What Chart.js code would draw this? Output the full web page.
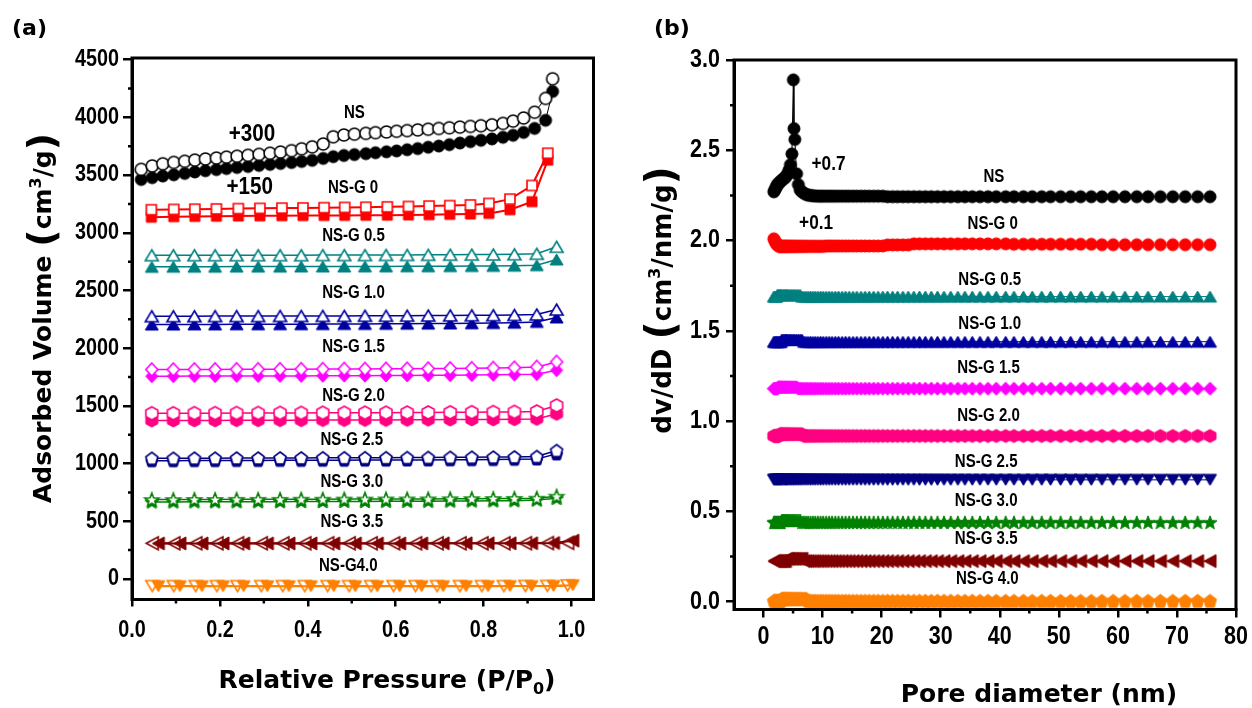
<!DOCTYPE html>
<html>
<head>
<meta charset="utf-8">
<script src="https://cdn.jsdelivr.net/npm/chart.js@4.4.1/dist/chart.umd.min.js"></script>
<style>
  html, body { margin: 0; padding: 0; background: #fff; }
  body { width: 1252px; height: 708px; position: relative; overflow: hidden; }
  .panel { position: absolute; top: 0; width: 626px; height: 708px; }
  #panelA { left: 0; }
  #panelB { left: 626px; }
</style>
</head>
<body>
<div class="panel" id="panelA"><canvas id="chartA" width="626" height="708"></canvas></div>
<div class="panel" id="panelB"><canvas id="chartB" width="626" height="708"></canvas></div>
<script>
// ---------- (a) N2 isotherms: relative pressure points ----------
const pressureNS = [0.021,0.046,0.070,0.095,0.120,0.143,0.167,0.192,0.215,0.239,0.264,0.289,0.314,0.338,0.363,0.386,0.410,0.435,0.458,0.482,0.506,0.532,0.554,0.579,0.602,0.626,0.650,0.674,0.698,0.722,0.746,0.770,0.794,0.819,0.844,0.867,0.891,0.916,0.941,0.957];
const pressureG0 = [0.044,0.095,0.143,0.192,0.242,0.291,0.341,0.389,0.437,0.484,0.532,0.581,0.629,0.676,0.723,0.770,0.812,0.860,0.910,0.946];
const pressureG = [0.045,0.094,0.142,0.189,0.238,0.287,0.337,0.385,0.434,0.483,0.530,0.578,0.626,0.674,0.724,0.773,0.822,0.870,0.921,0.966];
const pressureLowDes = [0.046,0.095,0.145,0.193,0.240,0.294,0.343,0.393,0.445,0.494,0.544,0.595,0.645,0.694,0.746,0.796,0.846,0.895,0.945,0.991];
const pressureLowAds = [0.060,0.109,0.159,0.207,0.254,0.308,0.357,0.407,0.459,0.508,0.558,0.609,0.659,0.708,0.760,0.810,0.860,0.909,0.959,1.003];

// adsorbed volume (cm3/g), already offset as labelled
const nsAds = [3462,3478,3492,3503,3515,3527,3538,3548,3557,3566,3575,3584,3593,3601,3609,3618,3628,3645,3660,3670,3678,3686,3694,3702,3710,3720,3730,3742,3752,3764,3778,3790,3802,3814,3828,3845,3870,3905,3975,4225];
const nsDes = [3550,3580,3598,3610,3620,3630,3640,3648,3656,3664,3672,3680,3690,3700,3712,3728,3745,3770,3832,3848,3855,3862,3868,3874,3880,3886,3892,3898,3904,3910,3916,3922,3928,3936,3948,3968,3995,4045,4165,4335];
const g0Ads = [3135,3140,3142,3144,3146,3147,3148,3149,3150,3151,3152,3153,3155,3157,3160,3163,3168,3200,3270,3630];
const g0Des = [3200,3203,3205,3207,3210,3212,3214,3216,3218,3220,3222,3225,3228,3232,3236,3242,3255,3292,3410,3690];
const g05Des = [2806,2806,2806,2806,2806,2806,2806,2806,2807,2807,2807,2808,2808,2809,2810,2811,2812,2814,2818,2879];
const g05Ads = [2705,2706,2706,2706,2707,2707,2707,2708,2708,2708,2709,2709,2710,2710,2711,2712,2713,2715,2719,2769];
const g10Des = [2277,2277,2277,2278,2278,2278,2279,2279,2280,2280,2281,2281,2282,2283,2284,2285,2286,2288,2292,2335];
const g10Ads = [2205,2205,2206,2206,2207,2207,2208,2208,2209,2210,2210,2211,2212,2213,2214,2216,2218,2221,2228,2266];
const g15Des = [1815,1815,1816,1816,1817,1817,1818,1818,1819,1820,1820,1821,1822,1823,1824,1826,1828,1831,1838,1881];
const g15Ads = [1757,1757,1758,1758,1759,1759,1760,1760,1761,1762,1762,1763,1764,1765,1766,1767,1769,1771,1775,1809];
const g20Des = [1436,1436,1437,1437,1438,1438,1439,1439,1440,1440,1441,1441,1442,1443,1444,1445,1446,1448,1451,1503];
const g20Ads = [1373,1373,1374,1374,1375,1375,1376,1376,1377,1377,1378,1378,1379,1380,1381,1382,1383,1384,1387,1431];
const g25Des = [1046,1046,1047,1047,1048,1048,1049,1049,1050,1050,1051,1051,1052,1053,1054,1055,1056,1058,1061,1113];
const g25Ads = [1025,1025,1026,1026,1027,1027,1028,1028,1029,1029,1030,1030,1031,1032,1033,1034,1035,1037,1040,1084];
const g30Des = [688,688,689,689,690,690,690,691,691,692,692,693,693,694,695,696,697,698,700,717];
const g30Ads = [668,668,669,669,670,670,670,671,671,672,672,673,673,674,675,676,677,678,685,699];
const g35Des = [309,309,309,309,309,309,309,309,309,309,309,309,309,309,309,309,309,310,311,313];
const g35Ads = [308,308,308,308,308,308,308,308,308,308,308,308,308,309,309,309,309,310,312,332];
const g40Des = [-62,-62,-62,-62,-62,-62,-62,-62,-62,-62,-62,-62,-62,-62,-62,-62,-62,-61,-60,-56];
const g40Ads = [-63,-63,-63,-63,-63,-63,-63,-63,-63,-63,-63,-63,-63,-63,-63,-63,-62,-62,-61,-54];

const ticksAX = [0, 0.2, 0.4, 0.6, 0.8, 1.0];
const minorAX = [0.1, 0.3, 0.5, 0.7, 0.9];
const ticksAY = [0, 500, 1000, 1500, 2000, 2500, 3000, 3500, 4000, 4500];
const minorAY = [250, 750, 1250, 1750, 2250, 2750, 3250, 3750, 4250];

const labelTextA = ['+300', 'NS', '+150', 'NS-G 0', 'NS-G 0.5', 'NS-G 1.0', 'NS-G 1.5', 'NS-G 2.0', 'NS-G 2.5', 'NS-G 3.0', 'NS-G 3.5', 'NS-G4.0'];
const labelXA = [0.273, 0.506, 0.268, 0.503, 0.504, 0.504, 0.504, 0.504, 0.500, 0.500, 0.500, 0.492];
const labelYA = [3855, 4038, 3390, 3384, 2967, 2481, 2005, 1580, 1199, 843, 488, 115];
const labelBigA = [true, false, true, false, false, false, false, false, false, false, false, false];

// ---------- (b) pore size distributions ----------
const diameter = [1.75,1.9,2.05,2.2,2.35,2.5,2.65,2.8,2.95,3.1,3.3,3.5,3.7,3.9,4.1,4.3,4.55,4.8,5.05,5.3,5.6,5.9,6.2,6.5,6.85,7.2,7.55,7.95,8.35,8.75,9.2,9.65,10.1,10.6,11.1,11.6,12.15,12.7,13.3,13.9,14.5,15.15,15.8,16.5,17.2,17.9,18.65,19.4,20.2,21.0,21.85,22.7,23.6,24.5,25.45,26.4,27.4,28.4,29.45,30.55,31.7,32.9,34.1,35.35,36.65,38.0,39.4,41.0,42.4,44.0,45.5,47.1,48.6,50.3,52.0,53.7,55.5,57.3,59.2,61.2,63.2,65.1,67.2,69.3,71.4,73.5,75.6];
const diameterNS = [1.75,1.9,2.05,2.2,2.35,2.5,2.65,2.8,2.95,3.1,3.3,3.5,3.7,3.9,4.1,4.3,4.55,4.8,5.05,5.15,5.3,5.6,5.9,6.2,6.5,6.85,7.2,7.55,7.95,8.35,8.75,9.2,9.65,10.1,10.6,11.1,11.6,12.15,12.7,13.3,13.9,14.5,15.15,15.8,16.5,17.2,17.9,18.65,19.4,20.2,21.0,21.85,22.7,23.6,24.5,25.45,26.4,27.4,28.4,29.45,30.55,31.7,32.9,34.1,35.35,36.65,38.0,39.4,41.0,42.4,44.0,45.5,47.1,48.6,50.3,52.0,53.7,55.5,57.3,59.2,61.2,63.2,65.1,67.2,69.3,71.4,73.5,75.6];

const psdNS = [2.27,2.28,2.29,2.30,2.31,2.315,2.32,2.325,2.33,2.335,2.34,2.345,2.35,2.36,2.37,2.39,2.42,2.48,2.89,2.62,2.56,2.37,2.31,2.28,2.27,2.262,2.256,2.252,2.25,2.248,2.247,
  2.246,2.246,2.246,2.246,2.246,2.246,2.246,2.246,2.246,2.246,2.246,2.246,2.246,2.246,2.246,2.246,2.246,2.246,2.246,
  2.243,2.243,2.243,2.243,2.243,2.243,2.243,2.243,2.243,2.243,2.243,2.243,2.243,2.243,2.243,2.243,2.243,2.243,2.243,
  2.243,2.243,2.243,2.243,2.243,2.243,2.243,2.243,2.243,2.243,2.243,2.243,2.243,2.243,2.243,2.243,2.243,2.243,2.243];
const psdG0 = [2.010,2.000,1.990,1.982,1.976,1.972,
  1.968,1.968,1.968,1.968,1.968,1.968,1.968,1.968,1.968,1.968,1.968,1.968,1.968,1.968,1.968,1.968,1.968,1.968,1.968,1.968,1.968,1.968,1.968,1.968,1.968,1.968,1.968,
  1.970,1.970,1.970,1.970,1.970,1.970,1.970,1.970,1.970,1.970,1.970,1.970,1.970,1.970,1.970,1.970,
  1.976,1.976,1.976,1.976,1.976,
  1.982,1.982,1.982,1.982,1.982,1.982,1.982,1.982,1.982,1.982,1.982,1.982,1.982,1.982,
  1.980,1.980,1.980,1.980,1.980,1.980,1.980,1.980,1.980,
  1.977,1.977,1.977,1.977,1.977,1.977,1.977,1.977,1.977,1.977];
const psdG05 = [1.690,1.690,1.690,1.690,
  1.700,1.700,1.700,1.700,1.700,1.700,1.700,1.700,1.700,1.700,1.700,1.700,1.700,1.700,1.700,1.700,1.700,1.700,1.700,
  1.690,1.690,1.690,1.690,1.690,1.690,1.690,1.690,1.690,1.690,1.690,1.690,1.690,1.690,1.690,1.690,1.690,1.690,1.690,1.690,1.690,1.690,
  1.690,1.690,1.690,1.690,1.690,1.690,1.690,1.690,1.690,1.690,1.690,1.690,1.690,1.690,1.690,1.690,1.690,1.690,1.690,1.690,1.690,1.690,
  1.690,1.690,1.690,1.690,1.690,1.690,1.690,1.690,1.690,1.690,1.690,1.690,1.690,1.690,1.690,1.690,1.690,1.690,1.690,1.690];
const psdG10 = [1.440,1.440,1.440,1.440,1.440,1.440,1.440,1.440,1.440,
  1.452,1.452,1.452,1.452,1.452,1.452,1.452,1.452,1.452,1.452,1.452,1.452,1.452,1.452,1.452,
  1.440,1.440,1.440,1.440,1.440,1.440,1.440,1.440,1.440,1.440,1.440,1.440,1.440,1.440,1.440,1.440,1.440,1.440,1.440,1.440,1.440,
  1.440,1.440,1.440,1.440,1.440,1.440,1.440,1.440,1.440,1.440,1.440,1.440,1.440,1.440,1.440,1.440,1.440,1.440,1.440,1.440,1.440,
  1.440,1.440,1.440,1.440,1.440,1.440,1.440,1.440,1.440,1.440,1.440,1.440,1.440,1.440,1.440,1.440,1.440,1.440,1.440,1.440,1.440];
const psdG15 = [1.180,1.180,1.180,1.180,1.180,
  1.188,1.188,1.188,1.188,1.188,1.188,1.188,1.188,1.188,1.188,1.188,1.188,1.188,1.188,1.188,1.188,
  1.180,1.180,1.180,1.180,1.180,1.180,1.180,1.180,1.180,1.180,1.180,1.180,1.180,1.180,1.180,1.180,1.180,1.180,1.180,1.180,1.180,1.180,
  1.180,1.180,1.180,1.180,1.180,1.180,1.180,1.180,1.180,1.180,1.180,1.180,1.180,1.180,1.180,1.180,1.180,1.180,1.180,1.180,1.180,1.180,
  1.180,1.180,1.180,1.180,1.180,1.180,1.180,1.180,1.180,1.180,1.180,1.180,1.180,1.180,1.180,1.180,1.180,1.180,1.180,1.180,1.180,1.180];
const psdG20 = [0.918,0.918,0.918,0.918,0.918,0.918,0.918,
  0.928,0.928,0.928,0.928,0.928,0.928,0.928,0.928,0.928,0.928,0.928,0.928,0.928,0.928,0.928,0.928,0.928,
  0.918,0.918,0.918,0.918,0.918,0.918,0.918,0.918,0.918,0.918,0.918,0.918,0.918,0.918,0.918,0.918,0.918,0.918,0.918,0.918,0.918,
  0.918,0.918,0.918,0.918,0.918,0.918,0.918,0.918,0.918,0.918,0.918,0.918,0.918,0.918,0.918,0.918,0.918,0.918,0.918,0.918,0.918,
  0.918,0.918,0.918,0.918,0.918,0.918,0.918,0.918,0.918,0.918,0.918,0.918,0.918,0.918,0.918,0.918,0.918,0.918,0.918,0.918,0.918];
const psdG25 = [0.675,0.675,0.675,0.675,0.675,0.675,0.675,0.675,0.675,0.675,0.675,0.675,0.675,0.675,0.675,0.675,0.675,0.675,0.675,0.675,0.675,0.675,
  0.675,0.675,0.675,0.675,0.675,0.675,0.675,0.675,0.675,0.675,0.675,0.675,0.675,0.675,0.675,0.675,0.675,0.675,0.675,0.675,0.675,0.675,
  0.675,0.675,0.675,0.675,0.675,0.675,0.675,0.675,0.675,0.675,0.675,0.675,0.675,0.675,0.675,0.675,0.675,0.675,0.675,0.675,0.675,0.675,
  0.675,0.675,0.675,0.675,0.675,0.675,0.675,0.675,0.675,0.675,0.675,0.675,0.675,0.675,0.675,0.675,0.675,0.675,0.675,0.675,0.675];
const psdG30 = [0.440,0.440,0.440,0.440,0.440,0.440,0.440,0.440,0.440,
  0.450,0.450,0.450,0.450,0.450,0.450,0.450,0.450,0.450,0.450,0.450,0.450,0.450,0.450,
  0.440,0.440,0.440,0.440,0.440,0.440,0.440,0.440,0.440,0.440,0.440,0.440,0.440,0.440,0.440,0.440,0.440,0.440,0.440,0.440,0.440,0.440,
  0.440,0.440,0.440,0.440,0.440,0.440,0.440,0.440,0.440,0.440,0.440,0.440,0.440,0.440,0.440,0.440,0.440,0.440,0.440,0.440,0.440,0.440,
  0.440,0.440,0.440,0.440,0.440,0.440,0.440,0.440,0.440,0.440,0.440,0.440,0.440,0.440,0.440,0.440,0.440,0.440,0.440,0.440];
const psdG35 = [0.225,0.225,0.225,0.225,0.225,0.225,0.225,0.225,0.225,0.225,0.225,0.225,0.225,
  0.238,0.238,0.238,0.238,0.238,0.238,0.238,0.238,0.238,0.238,0.238,
  0.225,0.225,0.225,0.225,0.225,0.225,0.225,0.225,0.225,0.225,0.225,0.225,0.225,0.225,0.225,0.225,0.225,0.225,0.225,0.225,0.225,
  0.225,0.225,0.225,0.225,0.225,0.225,0.225,0.225,0.225,0.225,0.225,0.225,0.225,0.225,0.225,0.225,0.225,0.225,0.225,0.225,0.225,
  0.225,0.225,0.225,0.225,0.225,0.225,0.225,0.225,0.225,0.225,0.225,0.225,0.225,0.225,0.225,0.225,0.225,0.225,0.225,0.225,0.225];
const psdG40 = [0.005,0.005,0.005,0.005,0.005,0.005,0.005,0.005,0.005,
  0.017,0.017,0.017,0.017,0.017,0.017,0.017,0.017,0.017,0.017,0.017,0.017,0.017,0.017,0.017,0.017,0.017,
  0.005,0.005,0.005,0.005,0.005,0.005,0.005,0.005,0.005,0.005,0.005,0.005,0.005,0.005,0.005,0.005,0.005,0.005,0.005,0.005,
  0.005,0.005,0.005,0.005,0.005,0.005,0.005,0.005,0.005,0.005,0.005,0.005,0.005,0.005,0.005,0.005,0.005,0.005,0.005,0.005,
  0.005,0.005,0.005,0.005,0.005,0.005,0.005,0.005,0.005,0.005,0.005,0.005,0.005,0.005,0.005,0.005,0.005,0.005,0.005,0.005,0.005];

const ticksBX = [0, 10, 20, 30, 40, 50, 60, 70, 80];
const minorBX = [5, 15, 25, 35, 45, 55, 65, 75];
const ticksBY = [0, 0.5, 1.0, 1.5, 2.0, 2.5, 3.0];
const minorBY = [0.25, 0.75, 1.25, 1.75, 2.25, 2.75];

const labelTextB = ['+0.7', 'NS', '+0.1', 'NS-G 0', 'NS-G 0.5', 'NS-G 1.0', 'NS-G 1.5', 'NS-G 2.0', 'NS-G 2.5', 'NS-G 3.0', 'NS-G 3.5', 'NS-G 4.0'];
const labelXB = [11.0, 39.0, 8.9, 38.8, 38.3, 38.3, 38.1, 38.1, 37.7, 37.7, 37.7, 37.9];
const labelYB = [2.42, 2.35, 2.095, 2.09, 1.782, 1.536, 1.291, 1.027, 0.773, 0.555, 0.345, 0.127];
const labelBigB = [true, false, true, false, false, false, false, false, false, false, false, false];

// ---------- colours ----------
const C = {
  ns: '#000000', g0: '#FF0000', g05: '#008080', g10: '#0000A0', g15: '#FF00FF',
  g20: '#FF0080', g25: '#000080', g30: '#008000', g35: '#800000', g40: '#FF8000'
};

// ---------- fonts ----------
const SANS = '"Liberation Sans", Arial, sans-serif';
const TITLE = '"DejaVu Sans", "Liberation Sans", sans-serif';
const SQUEEZE = 0.86;   // narrow bold look for numbers and curve labels

Chart.defaults.color = '#000';

// ---------- marker glyphs ----------
const SHAPES = {
  square:   [[-1,-1],[1,-1],[1,1],[-1,1]],
  triUp:    [[0,-1],[1,1],[-1,1]],
  triDown:  [[0,1],[1,-1],[-1,-1]],
  triLeft:  [[-1,0],[1,-1],[1,1]],
  diamond:  [[0,-1],[1,0],[0,1],[-1,0]],
  hexagon:  [[0,-1],[1,-0.5],[1,0.5],[0,1],[-1,0.5],[-1,-0.5]],
  pentagon: [[0,-1],[1,-0.236],[0.618,1],[-0.618,1],[-1,-0.236]],
  star: (function () {
    const p = [];
    for (let k = 0; k < 10; k++) {
      const r = k % 2 ? 0.42 : 1;
      const a = -Math.PI / 2 + k * Math.PI / 5;
      p.push([r * Math.cos(a) / 0.951, (r * Math.sin(a) + 0.095) / 0.905]);
    }
    return p;
  })()
};

function makeMarker(shape, w, h, fill, stroke, lw) {
  const pad = Math.ceil(lw) + 1;
  const c = document.createElement('canvas');
  c.width = Math.ceil(w + 2 * pad);
  c.height = Math.ceil(h + 2 * pad);
  const g = c.getContext('2d');
  g.translate(c.width / 2, c.height / 2);
  g.beginPath();
  if (shape === 'circle') {
    g.ellipse(0, 0, w / 2, h / 2, 0, 0, Math.PI * 2);
  } else {
    SHAPES[shape].forEach(([px, py], i) => {
      const X = px * w / 2, Y = py * h / 2;
      if (i) g.lineTo(X, Y); else g.moveTo(X, Y);
    });
    g.closePath();
  }
  g.fillStyle = fill;
  g.fill();
  g.lineJoin = 'miter';
  g.lineWidth = lw;
  g.strokeStyle = stroke;
  g.stroke();
  return c;
}

function pairs(xs, ys) { return xs.map((x, i) => ({ x: x, y: ys[i] })); }

function series(label, xs, ys, color, shape, w, h, open, lineW, order) {
  return {
    label: label,
    data: pairs(xs, ys),
    showLine: true,
    borderColor: color,
    backgroundColor: color,
    borderWidth: lineW,
    tension: 0,
    order: order,
    pointStyle: makeMarker(shape, w, h, open ? '#ffffff' : color, color, open ? 1.6 : 1),
    pointRadius: Math.max(w, h) / 2,
    pointHoverRadius: Math.max(w, h) / 2
  };
}

// ---------- text helpers ----------
function narrowText(ctx, text, x, y, size, align) {
  ctx.save();
  ctx.font = 'bold ' + size + 'px ' + SANS;
  ctx.textAlign = align;
  ctx.textBaseline = 'middle';
  ctx.translate(x, y);
  ctx.scale(SQUEEZE, 1);
  ctx.fillText(text, 0, 0);
  ctx.restore();
}

// draws a run of [text, size, baselineShift] pieces centred on (x, y)
function richText(ctx, parts, x, y, vertical) {
  ctx.save();
  ctx.translate(x, y);
  if (vertical) ctx.rotate(-Math.PI / 2);
  ctx.textAlign = 'left';
  ctx.textBaseline = 'alphabetic';
  let total = 0;
  const widths = parts.map(p => {
    ctx.font = 'bold ' + p[1] + 'px ' + TITLE;
    const w = ctx.measureText(p[0]).width;
    total += w;
    return w;
  });
  let cx = -total / 2;
  parts.forEach((p, i) => {
    ctx.font = 'bold ' + p[1] + 'px ' + TITLE;
    ctx.fillText(p[0], cx, p[2] || 0);
    cx += widths[i];
  });
  ctx.restore();
}

// ---------- plugins: frame, minor ticks, tick labels, titles, curve labels ----------
const framePlugin = {
  id: 'frame',
  afterDraw(chart, args, o) {
    const { ctx, chartArea: a, scales } = chart;
    ctx.save();
    ctx.strokeStyle = '#000';
    ctx.lineWidth = 3;
    ctx.beginPath();
    ctx.rect(a.left, a.top, a.right - a.left, a.bottom - a.top);
    ctx.stroke();
    ctx.lineWidth = 2.5;
    ctx.beginPath();
    o.minorX.forEach(v => {
      const p = scales.x.getPixelForValue(v);
      ctx.moveTo(p, a.bottom); ctx.lineTo(p, a.bottom + o.minorLen);
    });
    o.minorY.forEach(v => {
      const p = scales.y.getPixelForValue(v);
      ctx.moveTo(a.left, p); ctx.lineTo(a.left - o.minorLen, p);
    });
    ctx.stroke();
    ctx.fillStyle = '#000';
    o.ticksX.forEach(v => {
      narrowText(ctx, v.toFixed(o.decX), scales.x.getPixelForValue(v), a.bottom + o.xGap, o.tickSize, 'center');
    });
    o.ticksY.forEach(v => {
      narrowText(ctx, v.toFixed(o.decY), a.left - o.yGap, scales.y.getPixelForValue(v), o.tickSize, 'right');
    });
    ctx.restore();
  }
};

const textPlugin = {
  id: 'texts',
  afterDraw(chart, args, o) {
    const ctx = chart.ctx;
    const sx = chart.scales.x, sy = chart.scales.y;
    ctx.save();
    ctx.fillStyle = '#000';
    ctx.font = 'bold 22px ' + TITLE;
    ctx.textAlign = 'left';
    ctx.textBaseline = 'alphabetic';
    ctx.fillText(o.letter, o.letterX, o.letterY);
    richText(ctx, o.xTitle, o.xTitleX, o.xTitleY, false);
    richText(ctx, o.yTitle, o.yTitleX, o.yTitleY, true);
    o.text.forEach((s, i) => {
      narrowText(ctx, s, sx.getPixelForValue(o.xs[i]), sy.getPixelForValue(o.ys[i]), o.big[i] ? o.bigSize : o.size, 'center');
    });
    ctx.restore();
  }
};

function axis(min, max, ticks, tickLen, fitSize, horizontal) {
  return {
    type: 'linear',
    min: min,
    max: max,
    afterBuildTicks: s => { s.ticks = ticks.map(v => ({ value: v })); },
    afterFit: s => { if (horizontal) s.height = fitSize; else s.width = fitSize; },
    ticks: { display: false },
    grid: {
      display: true, drawOnChartArea: false, drawTicks: true,
      tickLength: tickLen, tickWidth: 2.5, tickColor: '#000', color: '#000', lineWidth: 2.5
    },
    border: { display: true, color: '#000', width: 3 }
  };
}

function baseOptions(padding) {
  return {
    responsive: false,
    animation: false,
    devicePixelRatio: 1,
    layout: { padding: padding },
    plugins: { legend: { display: false }, tooltip: { enabled: false } },
    events: []
  };
}

// ---------- chart (a) ----------
const dsA = [
  series('NS des', pressureNS, nsDes, C.ns, 'circle', 12, 12, true, 1, 0),
  series('NS ads', pressureNS, nsAds, C.ns, 'circle', 12, 12, false, 1, 1),
  series('NS-G 0 des', pressureG0, g0Des, C.g0, 'square', 10, 10, true, 2, 0),
  series('NS-G 0 ads', pressureG0, g0Ads, C.g0, 'square', 10, 10, false, 2, 1),
  series('NS-G 0.5 des', pressureG, g05Des, C.g05, 'triUp', 13, 11, true, 1.5, 0),
  series('NS-G 0.5 ads', pressureG, g05Ads, C.g05, 'triUp', 13, 11, false, 1.5, 1),
  series('NS-G 1.0 des', pressureG, g10Des, C.g10, 'triUp', 13, 11, true, 1.5, 0),
  series('NS-G 1.0 ads', pressureG, g10Ads, C.g10, 'triUp', 13, 11, false, 1.5, 1),
  series('NS-G 1.5 des', pressureG, g15Des, C.g15, 'diamond', 12, 13, true, 1.5, 0),
  series('NS-G 1.5 ads', pressureG, g15Ads, C.g15, 'diamond', 12, 13, false, 1.5, 1),
  series('NS-G 2.0 des', pressureG, g20Des, C.g20, 'hexagon', 12, 13, true, 1.5, 0),
  series('NS-G 2.0 ads', pressureG, g20Ads, C.g20, 'hexagon', 12, 13, false, 1.5, 1),
  series('NS-G 2.5 des', pressureG, g25Des, C.g25, 'pentagon', 12, 12, true, 1.5, 0),
  series('NS-G 2.5 ads', pressureG, g25Ads, C.g25, 'pentagon', 12, 12, false, 1.5, 1),
  series('NS-G 3.0 des', pressureG, g30Des, C.g30, 'star', 14, 13, true, 1.5, 0),
  series('NS-G 3.0 ads', pressureG, g30Ads, C.g30, 'star', 14, 13, false, 1.5, 1),
  series('NS-G 3.5 des', pressureLowDes, g35Des, C.g35, 'triLeft', 12, 13, true, 2, 1),
  series('NS-G 3.5 ads', pressureLowAds, g35Ads, C.g35, 'triLeft', 12, 13, false, 2, 0),
  series('NS-G 4.0 des', pressureLowDes, g40Des, C.g40, 'triDown', 13, 11, true, 2, 1),
  series('NS-G 4.0 ads', pressureLowAds, g40Ads, C.g40, 'triDown', 13, 11, false, 2, 0)
];

const optA = baseOptions({ left: 0, right: 32.5, top: 58, bottom: 0 });
optA.scales = {
  x: axis(0, 1.05, ticksAX, 7, 108.5, true),
  y: axis(-178, 4515, ticksAY, 9, 132, false)
};
optA.plugins.frame = {
  minorX: minorAX, minorY: minorAY, minorLen: 4,
  ticksX: ticksAX, ticksY: ticksAY, decX: 1, decY: 0,
  tickSize: 23, xGap: 31, yGap: 13
};
optA.plugins.texts = {
  letter: '(a)', letterX: 12, letterY: 35,
  xTitle: [['Relative Pressure (P/P', 25, 0], ['0', 16, 6], [')', 25, 0]], xTitleX: 387, xTitleY: 688,
  yTitle: [['Adsorbed Volume ', 25, 0], ['(', 38, 3], ['cm', 25, 0], ['3', 16, -10], ['/g', 25, 0], [')', 38, 3]],
  yTitleX: 51, yTitleY: 318,
  text: labelTextA, xs: labelXA, ys: labelYA, big: labelBigA, size: 17.5, bigSize: 24
};

new Chart(document.getElementById('chartA'), {
  type: 'scatter',
  data: { datasets: dsA },
  options: optA,
  plugins: [framePlugin, textPlugin]
});

// ---------- chart (b) ----------
const dsB = [
  series('NS', diameterNS, psdNS, C.ns, 'circle', 12, 12, false, 1, 0),
  series('NS-G 0', diameter, psdG0, C.g0, 'circle', 12, 12, false, 1, 0),
  series('NS-G 0.5', diameter, psdG05, C.g05, 'triUp', 13, 11, false, 1, 0),
  series('NS-G 1.0', diameter, psdG10, C.g10, 'triUp', 13, 11, false, 1, 0),
  series('NS-G 1.5', diameter, psdG15, C.g15, 'diamond', 13, 13, false, 1, 0),
  series('NS-G 2.0', diameter, psdG20, C.g20, 'hexagon', 12, 13, false, 1, 0),
  series('NS-G 2.5', diameter, psdG25, C.g25, 'triDown', 13, 11, false, 1, 0),
  series('NS-G 3.0', diameter, psdG30, C.g30, 'star', 14, 13, false, 1, 0),
  series('NS-G 3.5', diameter, psdG35, C.g35, 'triLeft', 12, 13, false, 1, 0),
  series('NS-G 4.0', diameter, psdG40, C.g40, 'pentagon', 13, 13, false, 1, 0)
];

const optB = baseOptions({ left: 0, right: 16, top: 60, bottom: 0 });
optB.scales = {
  x: axis(-5, 80, ticksBX, 8, 98.5, true),
  y: axis(-0.043, 3.0, ticksBY, 8, 108, false)
};
optB.plugins.frame = {
  minorX: minorBX, minorY: minorBY, minorLen: 4,
  ticksX: ticksBX, ticksY: ticksBY, decX: 0, decY: 1,
  tickSize: 25, xGap: 28, yGap: 14
};
optB.plugins.texts = {
  letter: '(b)', letterX: 28, letterY: 35,
  xTitle: [['Pore diameter (nm)', 25, 0]], xTitleX: 413, xTitleY: 702,
  yTitle: [['dv/dD ', 26, 0], ['(', 40, 3], ['cm', 26, 0], ['3', 16, -11], ['/nm/g', 26, 0], [')', 40, 3]],
  yTitleX: 45, yTitleY: 300,
  text: labelTextB, xs: labelXB, ys: labelYB, big: labelBigB, size: 17.5, bigSize: 20
};

new Chart(document.getElementById('chartB'), {
  type: 'scatter',
  data: { datasets: dsB },
  options: optB,
  plugins: [framePlugin, textPlugin]
});
</script>
</body>
</html>
